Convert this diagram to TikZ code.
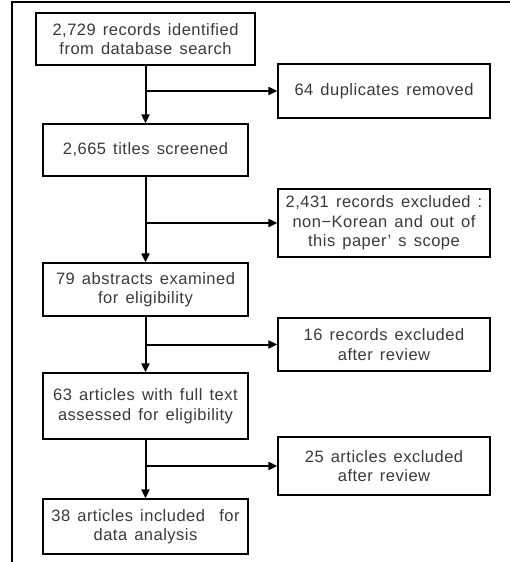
\documentclass[tikz,border=0pt]{standalone}
\usepackage{fontspec}
\setmainfont{Liberation Sans}[LetterSpace=3, WordSpace=1.4]
\usetikzlibrary{arrows.meta}
\definecolor{txt}{HTML}{3A3A3A}
\tikzset{
  box/.style={draw=black, line width=1.3pt, inner sep=0pt, align=center,
    text=txt, font=\fontsize{16.5}{19.5}\selectfont},
  arr/.style={line width=2pt, -{Triangle[length=9pt,width=8pt]}},
}
\begin{document}
\begin{tikzpicture}[x=1pt,y=-1pt]
\useasboundingbox (0,0) rectangle (510,562);
\draw[line width=1.5pt] (12,562) -- (12,2) -- (510,2);
\node[box, minimum width=219pt, minimum height=52pt] (b1) at (145.5,39) {2,729 records identified\\from database search};
\node[box, minimum width=212pt, minimum height=54pt] (dup) at (384,91) {64 duplicates removed};
\node[box, minimum width=205pt, minimum height=52pt] (b2) at (145.5,150) {2,665 titles screened};
\node[box, minimum width=212pt, minimum height=68pt] (ex) at (384,223) {2,431 records excluded :\\non−Korean and out of\\this paper’ s scope};
\node[box, minimum width=205pt, minimum height=53pt] (b3) at (145.5,289.5) {79 abstracts examined\\for eligibility};
\node[box, minimum width=212pt, minimum height=53pt] (r16) at (384,344.5) {16 records excluded\\after review};
\node[box, minimum width=205pt, minimum height=66pt] (b4) at (145.5,406) {63 articles with full text\\assessed for eligibility};
\node[box, minimum width=212pt, minimum height=58pt] (r25) at (384,466) {25 articles excluded\\after review};
\node[box, minimum width=205pt, minimum height=55pt] (b5) at (145.5,526.5) {38 articles included\ \ for\\data analysis};
\draw[arr] (b1) -- (b2);
\draw[arr] (b2) -- (b3);
\draw[arr] (b3) -- (b4);
\draw[arr] (b4) -- (b5);
\draw[arr] (b1.south |- dup.west) -- (dup.west);
\draw[arr] (b2.south |- ex.west) -- (ex.west);
\draw[arr] (b3.south |- r16.west) -- (r16.west);
\draw[arr] (b4.south |- r25.west) -- (r25.west);
\end{tikzpicture}
\end{document}
